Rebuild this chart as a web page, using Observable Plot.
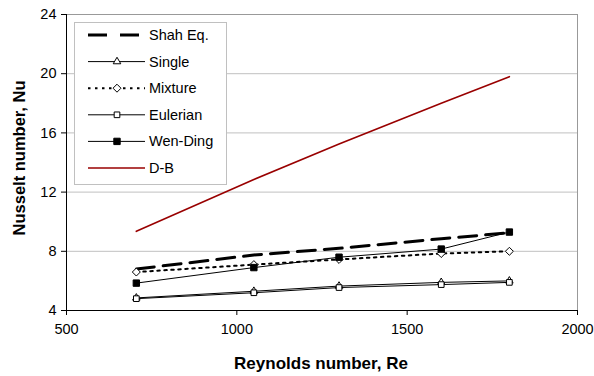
<!DOCTYPE html>
<html>
<head>
<meta charset="utf-8">
<script src="https://cdn.jsdelivr.net/npm/d3@7"></script>
<script src="https://cdn.jsdelivr.net/npm/@observablehq/plot@0.6"></script>
<style>
  html, body { margin: 0; padding: 0; background: #fff; }
  #chart { width: 594px; height: 376px; }
</style>
</head>
<body>
<div id="chart"></div>
<script>
// ---- data ----
const reynolds = [705, 1050, 1300, 1600, 1800];
const shahEq   = [6.8, 7.75, 8.2, 8.85, 9.25];
const single   = [4.85, 5.3, 5.65, 5.9, 6.0];
const mixture  = [6.6, 7.1, 7.45, 7.85, 8.0];
const eulerian = [4.8, 5.2, 5.55, 5.75, 5.9];
const wenDing  = [5.85, 6.9, 7.6, 8.15, 9.3];
const dB       = [9.35, 12.85, 15.25, 18.0, 19.8];

const xTicks = [500, 1000, 1500, 2000];
const yTicks = [4, 8, 12, 16, 20, 24];
const gridY  = [8, 12, 16, 20];

const seriesNames = ["Shah Eq.", "Single", "Mixture", "Eulerian", "Wen-Ding", "D-B"];
const seriesValues = [shahEq, single, mixture, eulerian, wenDing, dB];

const styles = {
  "Shah Eq.": {stroke: "#000", strokeWidth: 3, dash: "18,9", symbol: null},
  "Single":   {stroke: "#000", strokeWidth: 1, dash: null, symbol: "triangle2", fill: "#fff"},
  "Mixture":  {stroke: "#000", strokeWidth: 2, dash: "2.5,4.5", symbol: "diamond2", fill: "#fff"},
  "Eulerian": {stroke: "#000", strokeWidth: 1, dash: null, symbol: "square2", fill: "#fff"},
  "Wen-Ding": {stroke: "#000", strokeWidth: 1, dash: null, symbol: "square", fill: "#000"},
  "D-B":      {stroke: "#990000", strokeWidth: 1.6, dash: null, symbol: null}
};

const rows = seriesNames.flatMap((name, i) =>
  reynolds.map((re, j) => ({series: name, re, nu: seriesValues[i][j]})));

const marks = [
  Plot.ruleY(gridY, {stroke: "#c0c0c0", strokeWidth: 1}),
  Plot.ruleY([24], {stroke: "#999999"}),
  Plot.ruleX([2000], {stroke: "#999999"})
];
for (const name of seriesNames) {
  const s = styles[name];
  const data = rows.filter(d => d.series === name);
  marks.push(Plot.line(data, {x: "re", y: "nu", stroke: s.stroke, strokeWidth: s.strokeWidth,
    strokeDasharray: s.dash || undefined, curve: "linear"}));
  if (s.symbol) {
    marks.push(Plot.dot(data, {x: "re", y: "nu", symbol: () => s.symbol, r: 3.6,
      fill: s.fill, stroke: "#000", strokeWidth: 1}));
  }
}
marks.push(
  Plot.axisX(xTicks, {tickSize: 5, tickPadding: 8, tickFormat: d => String(d), fontSize: 14.5, label: null}),
  Plot.axisY(yTicks, {tickSize: 5, tickPadding: 5, tickFormat: d => String(d), fontSize: 14.5, label: null}),
  Plot.ruleX([500], {stroke: "#000"}),
  Plot.ruleY([4], {stroke: "#000"})
);

const chart = Plot.plot({
  width: 594,
  height: 376,
  marginLeft: 66,
  marginRight: 17,
  marginTop: 14,
  marginBottom: 66,
  x: {domain: [500, 2000]},
  y: {domain: [4, 24]},
  style: {fontFamily: "'Liberation Sans', Arial, sans-serif", color: "#000", background: "#fff", overflow: "visible"},
  marks
});
document.getElementById("chart").appendChild(chart);

// ---- axis titles and legend ----
const svg = d3.select(chart);
svg.append("text").attr("x", 321).attr("y", 369).attr("text-anchor", "middle")
  .attr("font-weight", "bold").attr("font-size", 17).attr("fill", "#000").text("Reynolds number, Re");
svg.append("text").attr("transform", "translate(25,158) rotate(-90)").attr("text-anchor", "middle")
  .attr("font-weight", "bold").attr("font-size", 16.5).attr("fill", "#000").text("Nusselt number, Nu");

const lg = svg.append("g");
lg.append("rect").attr("x", 74.5).attr("y", 22.5).attr("width", 152).attr("height", 162)
  .attr("fill", "#fff").attr("stroke", "#c0c0c0");
seriesNames.forEach((name, i) => {
  const s = styles[name];
  const y = 35 + i * 26.6;
  lg.append("line").attr("x1", 88).attr("x2", 145).attr("y1", y).attr("y2", y)
    .attr("stroke", s.stroke).attr("stroke-width", s.strokeWidth)
    .attr("stroke-dasharray", name === "Shah Eq." ? "19,13" : (s.dash || null));
  if (s.symbol) {
    const sym = {triangle2: d3.symbolTriangle2, diamond2: d3.symbolDiamond2, square2: d3.symbolSquare2, square: d3.symbolSquare}[s.symbol];
    lg.append("path").attr("d", d3.symbol(sym, Math.PI * 3.6 * 3.6)())
      .attr("transform", `translate(117,${y})`).attr("fill", s.fill).attr("stroke", "#000");
  }
  lg.append("text").attr("x", 149).attr("y", y).attr("dy", "0.35em").attr("text-anchor", "start")
    .attr("font-size", 14.5).attr("fill", "#000").text(name);
});
</script>
</body>
</html>
